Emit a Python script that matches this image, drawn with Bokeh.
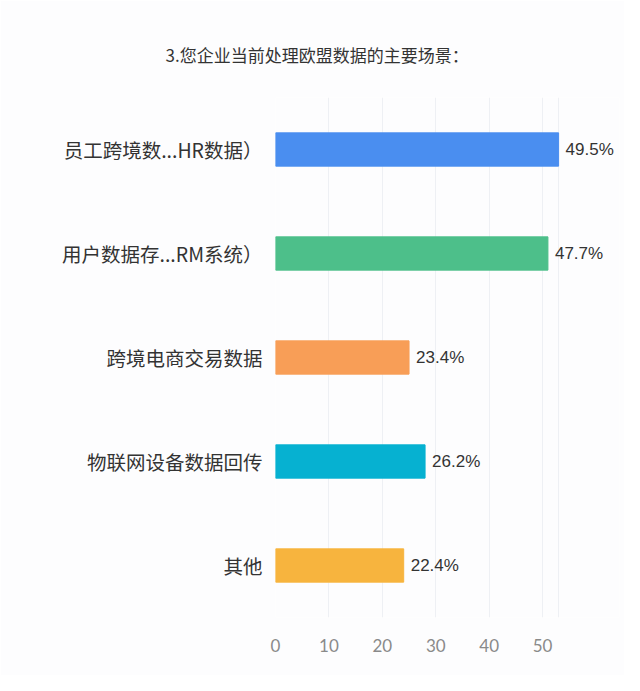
from bokeh.plotting import figure
from bokeh.models import ColumnDataSource, FixedTicker
from bokeh.core.properties import value
from bokeh.embed import file_html
from bokeh.resources import INLINE

# survey data: respondent counts per scenario, labels show share of 107
title_text = "3.您企业当前处理欧盟数据的主要场景："
categories = ["员工跨境数...HR数据）", "用户数据存...RM系统）", "跨境电商交易数据", "物联网设备数据回传", "其他"]
counts = [53, 51, 25, 28, 24]
pct_labels = ["49.5%", "47.7%", "23.4%", "26.2%", "22.4%"]
colors = ["#4a8ef0", "#4dbf8a", "#f89e57", "#06b1d1", "#f7b43e"]
x_ticks = [0, 10, 20, 30, 40, 50]

source = ColumnDataSource(dict(cat=categories, n=counts, lbl=pct_labels, color=colors))

p = figure(frame_width=344, frame_height=520, y_range=list(reversed(categories)), x_range=(0, 64.4),
           output_backend="svg", toolbar_location=None,
           min_border_left=275, min_border_right=5, min_border_top=97, min_border_bottom=58,
           title=title_text)
p.y_range.range_padding = 0

p.background_fill_color = "#fdfdfe"
p.border_fill_color = "#fdfdfe"
p.outline_line_color = None

p.title.align = "left"
p.title.offset = -110
p.title.standoff = 62
p.title.text_font = "Noto Sans CJK SC"
p.title.text_font_size = "17px"
p.title.text_font_style = "normal"
p.title.text_color = "#333333"

p.hbar(y="cat", right="n", left=0, height=0.32, color="color", source=source)
p.text(x="n", y="cat", text="lbl", source=source, x_offset=7,
       text_baseline="middle", text_align="left", text_font_size="17px",
       text_color="#333333", text_font=value("Liberation Sans"))

p.xaxis.ticker = FixedTicker(ticks=x_ticks)
p.xaxis.axis_line_color = None
p.xaxis.major_tick_line_color = None
p.xaxis.minor_tick_line_color = None
p.xaxis.major_label_text_font = "Lato"
p.xaxis.major_label_text_font_size = "17px"
p.xaxis.major_label_text_color = "#8a8a8a"
p.xaxis.major_label_standoff = 15

p.yaxis.axis_line_color = None
p.yaxis.major_tick_line_color = None
p.yaxis.major_label_text_font = "Noto Sans CJK SC"
p.yaxis.major_label_text_font_size = "19.5px"
p.yaxis.major_label_text_color = "#333333"
p.yaxis.major_label_standoff = 7

p.ygrid.grid_line_color = None
p.xgrid.ticker = FixedTicker(ticks=x_ticks + [53])
p.xgrid.grid_line_color = "#eef0f4"
p.xgrid.grid_line_width = 1

open("out.html", "w").write(file_html(p, INLINE))
